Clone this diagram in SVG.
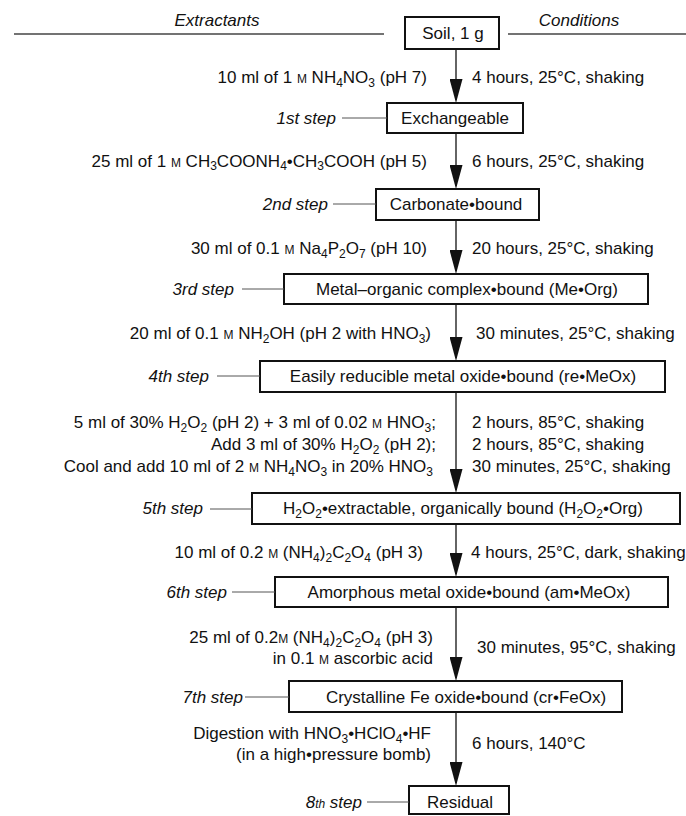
<svg xmlns="http://www.w3.org/2000/svg" width="686" height="816" viewBox="0 0 686 816">
<style>
text{font-family:"Liberation Sans",Arial,Helvetica,sans-serif;font-size:17px;fill:#111}
.i{font-style:italic}
.e{text-anchor:end}
.m{text-anchor:middle}
.s{font-size:12px}
.k{font-size:12px}
.box{fill:#fff;stroke:#111;stroke-width:2}
.lead{stroke:#555;stroke-width:1}
.rule{stroke:#444;stroke-width:1.5}
.arr{stroke:#111;stroke-width:1.3;fill:none;marker-end:url(#ah)}
</style>
<defs>
<marker id="ah" viewBox="0 0 24 13" refX="21" refY="6.5" markerWidth="24" markerHeight="13" markerUnits="userSpaceOnUse" orient="auto">
<path d="M0,0 L24,6.5 L0,13 Z" fill="#111"/>
</marker>
</defs>
<rect width="686" height="816" fill="#fff"/>
<g id="header">
<text class="i m" x="217" y="26">Extractants</text>
<text class="i m" x="579" y="26">Conditions</text>
<line class="rule" x1="14" y1="34" x2="384" y2="34"/>
<line class="rule" x1="508" y1="34" x2="686" y2="34"/>
</g>
<g id="connectors">
<line class="arr" x1="456" y1="50" x2="456" y2="100"/>
<line class="arr" x1="456" y1="134" x2="456" y2="186"/>
<line class="arr" x1="456" y1="221" x2="456" y2="271"/>
<line class="arr" x1="456" y1="305" x2="456" y2="358"/>
<line class="arr" x1="456" y1="393" x2="456" y2="490"/>
<line class="arr" x1="456" y1="525" x2="456" y2="574"/>
<line class="arr" x1="456" y1="608" x2="456" y2="678"/>
<line class="arr" x1="456" y1="713" x2="456" y2="783"/>
</g>
<g id="labels">
<text class="e" x="427" y="83">10 ml of 1 <tspan class="k">M</tspan> NH<tspan class="s" dy="4">4</tspan><tspan dy="-4">NO</tspan><tspan class="s" dy="4">3</tspan><tspan dy="-4"> (pH 7)</tspan></text>
<text x="472" y="83">4 hours, 25°C, shaking</text>
<text class="e" x="427" y="167">25 ml of 1 <tspan class="k">M</tspan> CH<tspan class="s" dy="3">3</tspan><tspan dy="-3">COONH</tspan><tspan class="s" dy="3">4</tspan><tspan dy="-3">•CH</tspan><tspan class="s" dy="3">3</tspan><tspan dy="-3">COOH (pH 5)</tspan></text>
<text x="472" y="167">6 hours, 25°C, shaking</text>
<text class="e" x="427" y="254">30 ml of 0.1 <tspan class="k">M</tspan> Na<tspan class="s" dy="4">4</tspan><tspan dy="-4">P</tspan><tspan class="s" dy="4">2</tspan><tspan dy="-4">O</tspan><tspan class="s" dy="4">7</tspan><tspan dy="-4"> (pH 10)</tspan></text>
<text x="472" y="254">20 hours, 25°C, shaking</text>
<text class="e" x="431" y="339">20 ml of 0.1 <tspan class="k">M</tspan> NH<tspan class="s" dy="4">2</tspan><tspan dy="-4">OH (pH 2 with HNO</tspan><tspan class="s" dy="4">3</tspan><tspan dy="-4">)</tspan></text>
<text x="476" y="339">30 minutes, 25°C, shaking</text>
<text class="e" x="436" y="428">5 ml of 30% H<tspan class="s" dy="4">2</tspan><tspan dy="-4">O</tspan><tspan class="s" dy="4">2</tspan><tspan dy="-4"> (pH 2) + 3 ml of 0.02 </tspan><tspan class="k">M</tspan> HNO<tspan class="s" dy="4">3</tspan><tspan dy="-4">;</tspan></text>
<text class="e" x="436" y="450">Add 3 ml of 30% H<tspan class="s" dy="4">2</tspan><tspan dy="-4">O</tspan><tspan class="s" dy="4">2</tspan><tspan dy="-4"> (pH 2);</tspan></text>
<text class="e" x="433" y="472">Cool and add 10 ml of 2 <tspan class="k">M</tspan> NH<tspan class="s" dy="4">4</tspan><tspan dy="-4">NO</tspan><tspan class="s" dy="4">3</tspan><tspan dy="-4"> in 20% HNO</tspan><tspan class="s" dy="4">3</tspan></text>
<text x="472" y="428">2 hours, 85°C, shaking</text>
<text x="472" y="450">2 hours, 85°C, shaking</text>
<text x="472" y="472">30 minutes, 25°C, shaking</text>
<text class="e" x="423" y="558">10 ml of 0.2 <tspan class="k">M</tspan> (NH<tspan class="s" dy="4">4</tspan><tspan dy="-4">)</tspan><tspan class="s" dy="4">2</tspan><tspan dy="-4">C</tspan><tspan class="s" dy="4">2</tspan><tspan dy="-4">O</tspan><tspan class="s" dy="4">4</tspan><tspan dy="-4"> (pH 3)</tspan></text>
<text x="471" y="558">4 hours, 25°C, dark, shaking</text>
<text class="e" x="433" y="643">25 ml of 0.2<tspan class="k">M</tspan> (NH<tspan class="s" dy="4">4</tspan><tspan dy="-4">)</tspan><tspan class="s" dy="4">2</tspan><tspan dy="-4">C</tspan><tspan class="s" dy="4">2</tspan><tspan dy="-4">O</tspan><tspan class="s" dy="4">4</tspan><tspan dy="-4"> (pH 3)</tspan></text>
<text class="e" x="433" y="664">in 0.1 <tspan class="k">M</tspan> ascorbic acid</text>
<text x="477" y="653">30 minutes, 95°C, shaking</text>
<text class="e" x="431" y="739">Digestion with HNO<tspan class="s" dy="4">3</tspan><tspan dy="-4">•HClO</tspan><tspan class="s" dy="4">4</tspan><tspan dy="-4">•HF</tspan></text>
<text class="e" x="431" y="760">(in a high•pressure bomb)</text>
<text x="472" y="749">6 hours, 140°C</text>
</g>
<g id="soil">
<rect class="box" x="405" y="17" width="94" height="32"/>
<text class="m" x="453" y="39">Soil, 1 g</text>
</g>
<g id="step1">
<rect class="box" x="387" y="103" width="136" height="30"/>
<text class="m" x="455" y="124">Exchangeable</text>
<text class="i e" x="336" y="124">1st step</text>
<line class="lead" x1="342" y1="118" x2="387" y2="118"/>
</g>
<g id="step2">
<rect class="box" x="376" y="189" width="163" height="31"/>
<text class="m" x="456" y="210">Carbonate•bound</text>
<text class="i e" x="328" y="210">2nd step</text>
<line class="lead" x1="333" y1="204" x2="376" y2="204"/>
</g>
<g id="step3">
<rect class="box" x="284" y="274" width="364" height="30"/>
<text class="m" x="467" y="295">Metal–organic complex•bound (Me•Org)</text>
<text class="i e" x="234" y="295">3rd step</text>
<line class="lead" x1="242" y1="289" x2="284" y2="289"/>
</g>
<g id="step4">
<rect class="box" x="260" y="361" width="405" height="31"/>
<text class="m" x="463" y="382">Easily reducible metal oxide•bound (re•MeOx)</text>
<text class="i e" x="209" y="382">4th step</text>
<line class="lead" x1="217" y1="376" x2="260" y2="376"/>
</g>
<g id="step5">
<rect class="box" x="252" y="493" width="428" height="31"/>
<text class="m" x="463" y="514">H<tspan class="s" dy="4">2</tspan><tspan dy="-4">O</tspan><tspan class="s" dy="4">2</tspan><tspan dy="-4">•extractable, organically bound (H</tspan><tspan class="s" dy="4">2</tspan><tspan dy="-4">O</tspan><tspan class="s" dy="4">2</tspan><tspan dy="-4">•Org)</tspan></text>
<text class="i e" x="203" y="514">5th step</text>
<line class="lead" x1="210" y1="509" x2="252" y2="509"/>
</g>
<g id="step6">
<rect class="box" x="275" y="577" width="393" height="30"/>
<text class="m" x="469" y="598">Amorphous metal oxide•bound (am•MeOx)</text>
<text class="i e" x="227" y="598">6th step</text>
<line class="lead" x1="232" y1="592" x2="275" y2="592"/>
</g>
<g id="step7">
<rect class="box" x="289" y="681" width="333" height="31"/>
<text class="m" x="466" y="703">Crystalline Fe oxide•bound (cr•FeOx)</text>
<text class="i e" x="243" y="703">7th step</text>
<line class="lead" x1="245" y1="697" x2="289" y2="697"/>
</g>
<g id="step8">
<rect class="box" x="409" y="786" width="100" height="28"/>
<text class="m" x="460" y="808">Residual</text>
<text class="i e" x="362" y="808">8<tspan font-size="12px">th</tspan> step</text>
<line class="lead" x1="367" y1="802" x2="409" y2="802"/>
</g>
</svg>
